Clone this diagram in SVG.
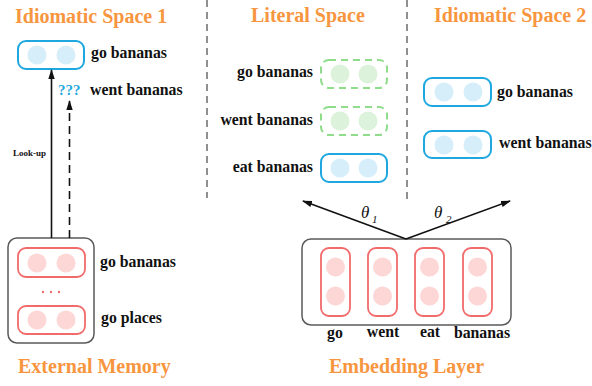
<svg xmlns="http://www.w3.org/2000/svg" width="592" height="386" viewBox="0 0 592 386" font-family="Liberation Serif, serif">
<defs>
<style>
.title{font-weight:bold;font-size:20px;fill:#F7963F}
.lbl{font-weight:bold;font-size:15.8px;fill:#111}
.small{font-weight:bold;font-size:9px;fill:#111}
.q{font-weight:bold;font-size:15px;fill:#1FA8E0}
.th{font-style:italic;font-size:17px;fill:#111}
.sub{font-style:italic;font-size:11px;fill:#111}
.blue{fill:#fff;stroke:#1FA8E0;stroke-width:2}
.green{fill:#fff;stroke:#8FDC8A;stroke-width:2;stroke-dasharray:7 5}
.red{fill:#fff;stroke:#F26B6B;stroke-width:1.8}
.outer{fill:#fff;stroke:#595959;stroke-width:1.5}
.cb{fill:#D5EEF9}
.cg{fill:#DDF2DA}
.cr{fill:#FDD6D6}
.div{stroke:#555;stroke-width:1.3;stroke-dasharray:7 5;fill:none}
.ln{stroke:#111;stroke-width:1.6;fill:none}
</style>
<marker id="ah" viewBox="0 0 10 10" refX="9" refY="5" markerWidth="10" markerHeight="10" markerUnits="userSpaceOnUse" orient="auto">
<path d="M0,1.8 L10,5 L0,8.2 Z" fill="#111"/>
</marker>
</defs>

<g id="titles">
<text class="title" x="15" y="23">Idiomatic Space 1</text>
<text class="title" x="251" y="22">Literal Space</text>
<text class="title" x="434" y="22">Idiomatic Space 2</text>
<text class="title" x="18" y="373">External Memory</text>
<text class="title" x="329" y="373">Embedding Layer</text>
</g>

<g id="dividers">
<line class="div" x1="207" y1="0" x2="207" y2="198"/>
<line class="div" x1="407" y1="0" x2="407" y2="200"/>
</g>

<g id="idiom1-go">
<rect class="blue" x="18" y="41" width="66" height="28" rx="8"/>
<circle class="cb" cx="37" cy="55" r="9.5"/>
<circle class="cb" cx="66" cy="55" r="9.5"/>
<text class="lbl" x="91" y="58">go bananas</text>
</g>
<g id="idiom1-went">
<text class="q" x="58" y="95">???</text>
<text class="lbl" x="90" y="95">went bananas</text>
</g>

<g id="literal-go">
<rect class="green" x="321" y="60" width="66" height="28" rx="8"/>
<circle class="cg" cx="340" cy="74" r="9.5"/>
<circle class="cg" cx="368" cy="74" r="9.5"/>
<text class="lbl" x="313" y="77" text-anchor="end">go bananas</text>
</g>
<g id="literal-went">
<rect class="green" x="321" y="107" width="66" height="28" rx="8"/>
<circle class="cg" cx="340" cy="121" r="9.5"/>
<circle class="cg" cx="368" cy="121" r="9.5"/>
<text class="lbl" x="313" y="125" text-anchor="end">went bananas</text>
</g>
<g id="literal-eat">
<rect class="blue" x="321" y="154" width="66" height="28" rx="8"/>
<circle class="cb" cx="340" cy="168" r="9.5"/>
<circle class="cb" cx="368" cy="168" r="9.5"/>
<text class="lbl" x="313" y="172" text-anchor="end">eat bananas</text>
</g>

<g id="idiom2-go">
<rect class="blue" x="424" y="78" width="67" height="28" rx="8"/>
<circle class="cb" cx="444" cy="92" r="9.5"/>
<circle class="cb" cx="473" cy="92" r="9.5"/>
<text class="lbl" x="497" y="97">go bananas</text>
</g>
<g id="idiom2-went">
<rect class="blue" x="424" y="131" width="67" height="27" rx="8"/>
<circle class="cb" cx="444" cy="145" r="9.5"/>
<circle class="cb" cx="473" cy="145" r="9.5"/>
<text class="lbl" x="499" y="148">went bananas</text>
</g>

<g id="external-memory">
<rect class="outer" x="8" y="238" width="86" height="105" rx="9"/>
<rect class="red" x="18" y="248" width="67" height="29" rx="8"/>
<circle class="cr" cx="37" cy="263" r="9.5"/>
<circle class="cr" cx="66" cy="263" r="9.5"/>
<circle cx="43" cy="292" r="1.2" fill="#F26B6B"/>
<circle cx="51" cy="292" r="1.2" fill="#F26B6B"/>
<circle cx="59" cy="292" r="1.2" fill="#F26B6B"/>
<rect class="red" x="18" y="306" width="67" height="28" rx="8"/>
<circle class="cr" cx="37" cy="320" r="9.5"/>
<circle class="cr" cx="66" cy="320" r="9.5"/>
<text class="lbl" x="100" y="267">go bananas</text>
<text class="lbl" x="101" y="323">go places</text>
</g>

<g id="embedding-layer">
<rect class="outer" x="302" y="239" width="209" height="86" rx="9"/>
<rect class="red" x="321" y="248" width="29" height="68" rx="8"/>
<circle class="cr" cx="335.5" cy="267" r="9.5"/>
<circle class="cr" cx="335.5" cy="296" r="9.5"/>
<rect class="red" x="368" y="248" width="29" height="68" rx="8"/>
<circle class="cr" cx="382.5" cy="267" r="9.5"/>
<circle class="cr" cx="382.5" cy="296" r="9.5"/>
<rect class="red" x="415" y="248" width="29" height="68" rx="8"/>
<circle class="cr" cx="429.5" cy="267" r="9.5"/>
<circle class="cr" cx="429.5" cy="296" r="9.5"/>
<rect class="red" x="463" y="248" width="29" height="68" rx="8"/>
<circle class="cr" cx="477.5" cy="267" r="9.5"/>
<circle class="cr" cx="477.5" cy="296" r="9.5"/>
<text class="lbl" x="335" y="338" text-anchor="middle">go</text>
<text class="lbl" x="383" y="337" text-anchor="middle">went</text>
<text class="lbl" x="430" y="337" text-anchor="middle">eat</text>
<text class="lbl" x="482" y="338" text-anchor="middle">bananas</text>
</g>

<g id="connectors">
<line class="ln" x1="51.5" y1="238" x2="51.5" y2="70" marker-end="url(#ah)"/>
<line class="ln" x1="69.5" y1="238" x2="69.5" y2="101" stroke-dasharray="8 5" marker-end="url(#ah)"/>
<text class="small" x="13" y="156">Look-up</text>
<line class="ln" x1="406" y1="239" x2="303" y2="201" marker-end="url(#ah)"/>
<line class="ln" x1="406" y1="239" x2="510" y2="201" marker-end="url(#ah)"/>
<text class="th" x="361" y="218">θ</text>
<text class="sub" x="372" y="223">1</text>
<text class="th" x="434" y="218">θ</text>
<text class="sub" x="446" y="223">2</text>
</g>
</svg>
